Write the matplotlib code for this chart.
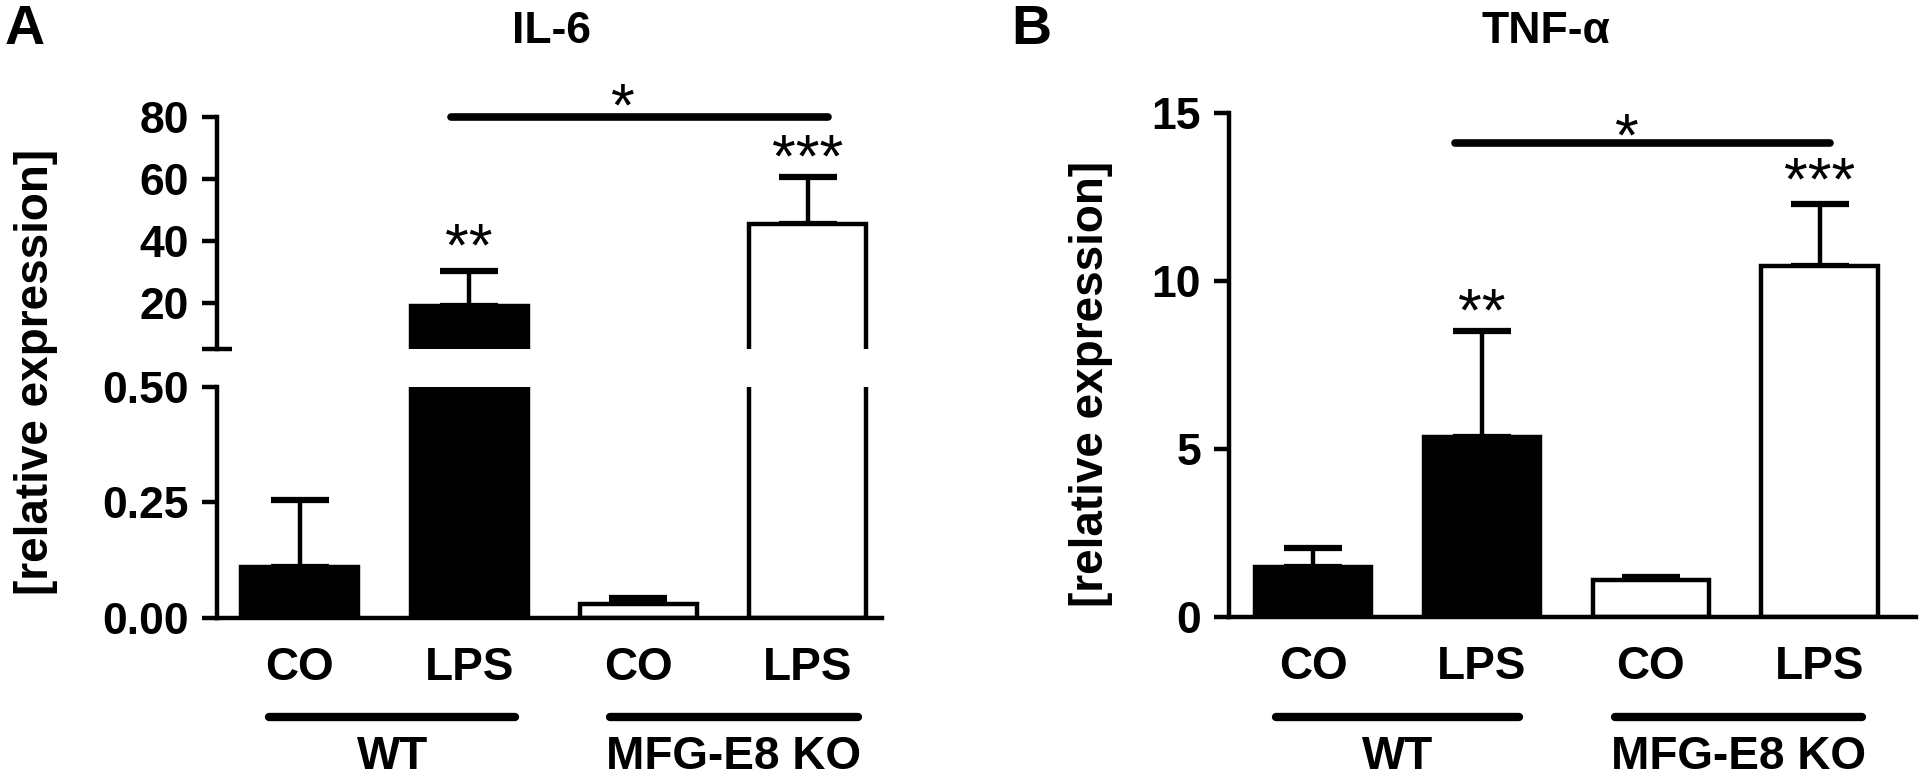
import matplotlib
matplotlib.use('Agg')
import matplotlib.pyplot as plt
import matplotlib.transforms as mtransforms
from matplotlib.ticker import FixedLocator
import numpy as np

# 数据
treatments = ['CO', 'LPS', 'CO', 'LPS']
genotypes = ['WT', 'MFG-E8 KO']
bar_colors = ['black', 'black', 'white', 'white']

il6_mean = [0.11, 19.0, 0.03, 45.3]
il6_err = [0.145, 11.3, 0.013, 15.3]

tnf_mean = [1.49, 5.36, 1.10, 10.45]
tnf_err = [0.56, 3.15, 0.09, 1.84]

narrow = ['Liberation Sans Narrow', 'Liberation Sans', 'DejaVu Sans']
wide = ['Liberation Sans', 'DejaVu Sans']

plt.rcParams['font.family'] = narrow
plt.rcParams['font.weight'] = 'bold'

LW = 3.2
x = np.arange(len(treatments))
bar_w = 0.69


def draw_bars(ax, mean, err):
    ax.bar(x, mean, width=bar_w, color=bar_colors, edgecolor='black',
           linewidth=LW, zorder=2)
    ax.errorbar(x, mean, yerr=[np.zeros(len(mean)), err], fmt='none',
                ecolor='black', elinewidth=LW, capsize=21, capthick=4.5,
                zorder=1)


def style_axis(ax):
    for s in ['top', 'right']:
        ax.spines[s].set_visible(False)
    for s in ['left', 'bottom']:
        ax.spines[s].set_linewidth(LW)
    ax.tick_params(axis='y', direction='out', length=11, width=LW,
                   pad=9, labelsize=32)


def group_labels(ax, fig, spans):
    trans = mtransforms.blended_transform_factory(ax.transData, fig.transFigure)
    for (x0, x1), name in zip(spans, genotypes):
        ax.plot([x0, x1], [0.081, 0.081], color='black', lw=6,
                solid_capstyle='round', transform=trans, clip_on=False)
        ax.text((x0 + x1) / 2, 0.030, name, transform=trans, ha='center',
                va='center', fontsize=33)


def stars(ax, xs, ys, labels):
    for xi, yi, s in zip(xs, ys, labels):
        ax.text(xi, yi, s, ha='center', va='center', fontsize=44,
                family=wide, fontweight='normal', clip_on=False)


fig = plt.figure(figsize=(19.2, 7.8), dpi=100)

# ---------- A: IL-6 (断轴) ----------
axA_lo = fig.add_axes([0.113, 0.2077, 0.3464, 0.2962])
axA_hi = fig.add_axes([0.113, 0.5526, 0.3464, 0.2974])
for ax in (axA_lo, axA_hi):
    draw_bars(ax, il6_mean, il6_err)
    style_axis(ax)
    ax.set_xlim(-0.49, 3.44)

axA_lo.set_ylim(0, 0.5)
axA_lo.set_yticks([0, 0.25, 0.5])
axA_lo.set_yticklabels(['0.00', '0.25', '0.50'])
axA_lo.yaxis.set_minor_locator(FixedLocator([0.5]))
axA_lo.tick_params(axis='y', which='minor', direction='inout', length=22, width=LW)
axA_lo.set_xticks(x)
axA_lo.set_xticklabels(treatments, fontsize=33)
axA_lo.tick_params(axis='x', length=0, pad=20)

axA_hi.set_ylim(5, 80)
axA_hi.set_yticks([20, 40, 60, 80])
axA_hi.yaxis.set_minor_locator(FixedLocator([5]))
axA_hi.tick_params(axis='y', which='minor', direction='inout', length=22, width=LW)
axA_hi.spines['bottom'].set_visible(False)
axA_hi.set_xticks([])

axA_hi.plot([0.89, 3.12], [80, 80], color='black', lw=5.5,
            solid_capstyle='round', clip_on=False)
stars(axA_hi, [1.91, 1, 3], [82.3, 36.9, 65.7], ['*', '**', '***'])

group_labels(axA_lo, fig, [(-0.18, 1.27), (1.83, 3.30)])

fig.text(0.019, 0.523, '[relative expression]', rotation=90, ha='center',
         va='center', fontsize=33, family=wide)
fig.text(0.013, 0.962, 'A', ha='center', va='center', fontsize=40, family=wide)
fig.text(0.287, 0.960, 'IL-6', ha='center', va='center', fontsize=32)

# ---------- B: TNF-α ----------
axB = fig.add_axes([0.640, 0.2090, 0.3578, 0.6462])
draw_bars(axB, tnf_mean, tnf_err)
style_axis(axB)
axB.set_xlim(-0.50, 3.57)
axB.set_ylim(0, 15)
axB.set_yticks([0, 5, 10, 15])
axB.set_xticks(x)
axB.set_xticklabels(treatments, fontsize=33)
axB.tick_params(axis='x', length=0, pad=20)

axB.plot([0.84, 3.06], [14.11, 14.11], color='black', lw=5.5,
         solid_capstyle='round', clip_on=False)
stars(axB, [1.86, 1, 3], [14.2, 8.99, 12.89], ['*', '**', '***'])

group_labels(axB, fig, [(-0.22, 1.22), (1.79, 3.25)])

fig.text(0.568, 0.508, '[relative expression]', rotation=90, ha='center',
         va='center', fontsize=33, family=wide)
fig.text(0.537, 0.962, 'B', ha='center', va='center', fontsize=40, family=wide)
fig.text(0.805, 0.960, 'TNF-α', ha='center', va='center', fontsize=32)

fig.savefig('out.png', dpi=100)
